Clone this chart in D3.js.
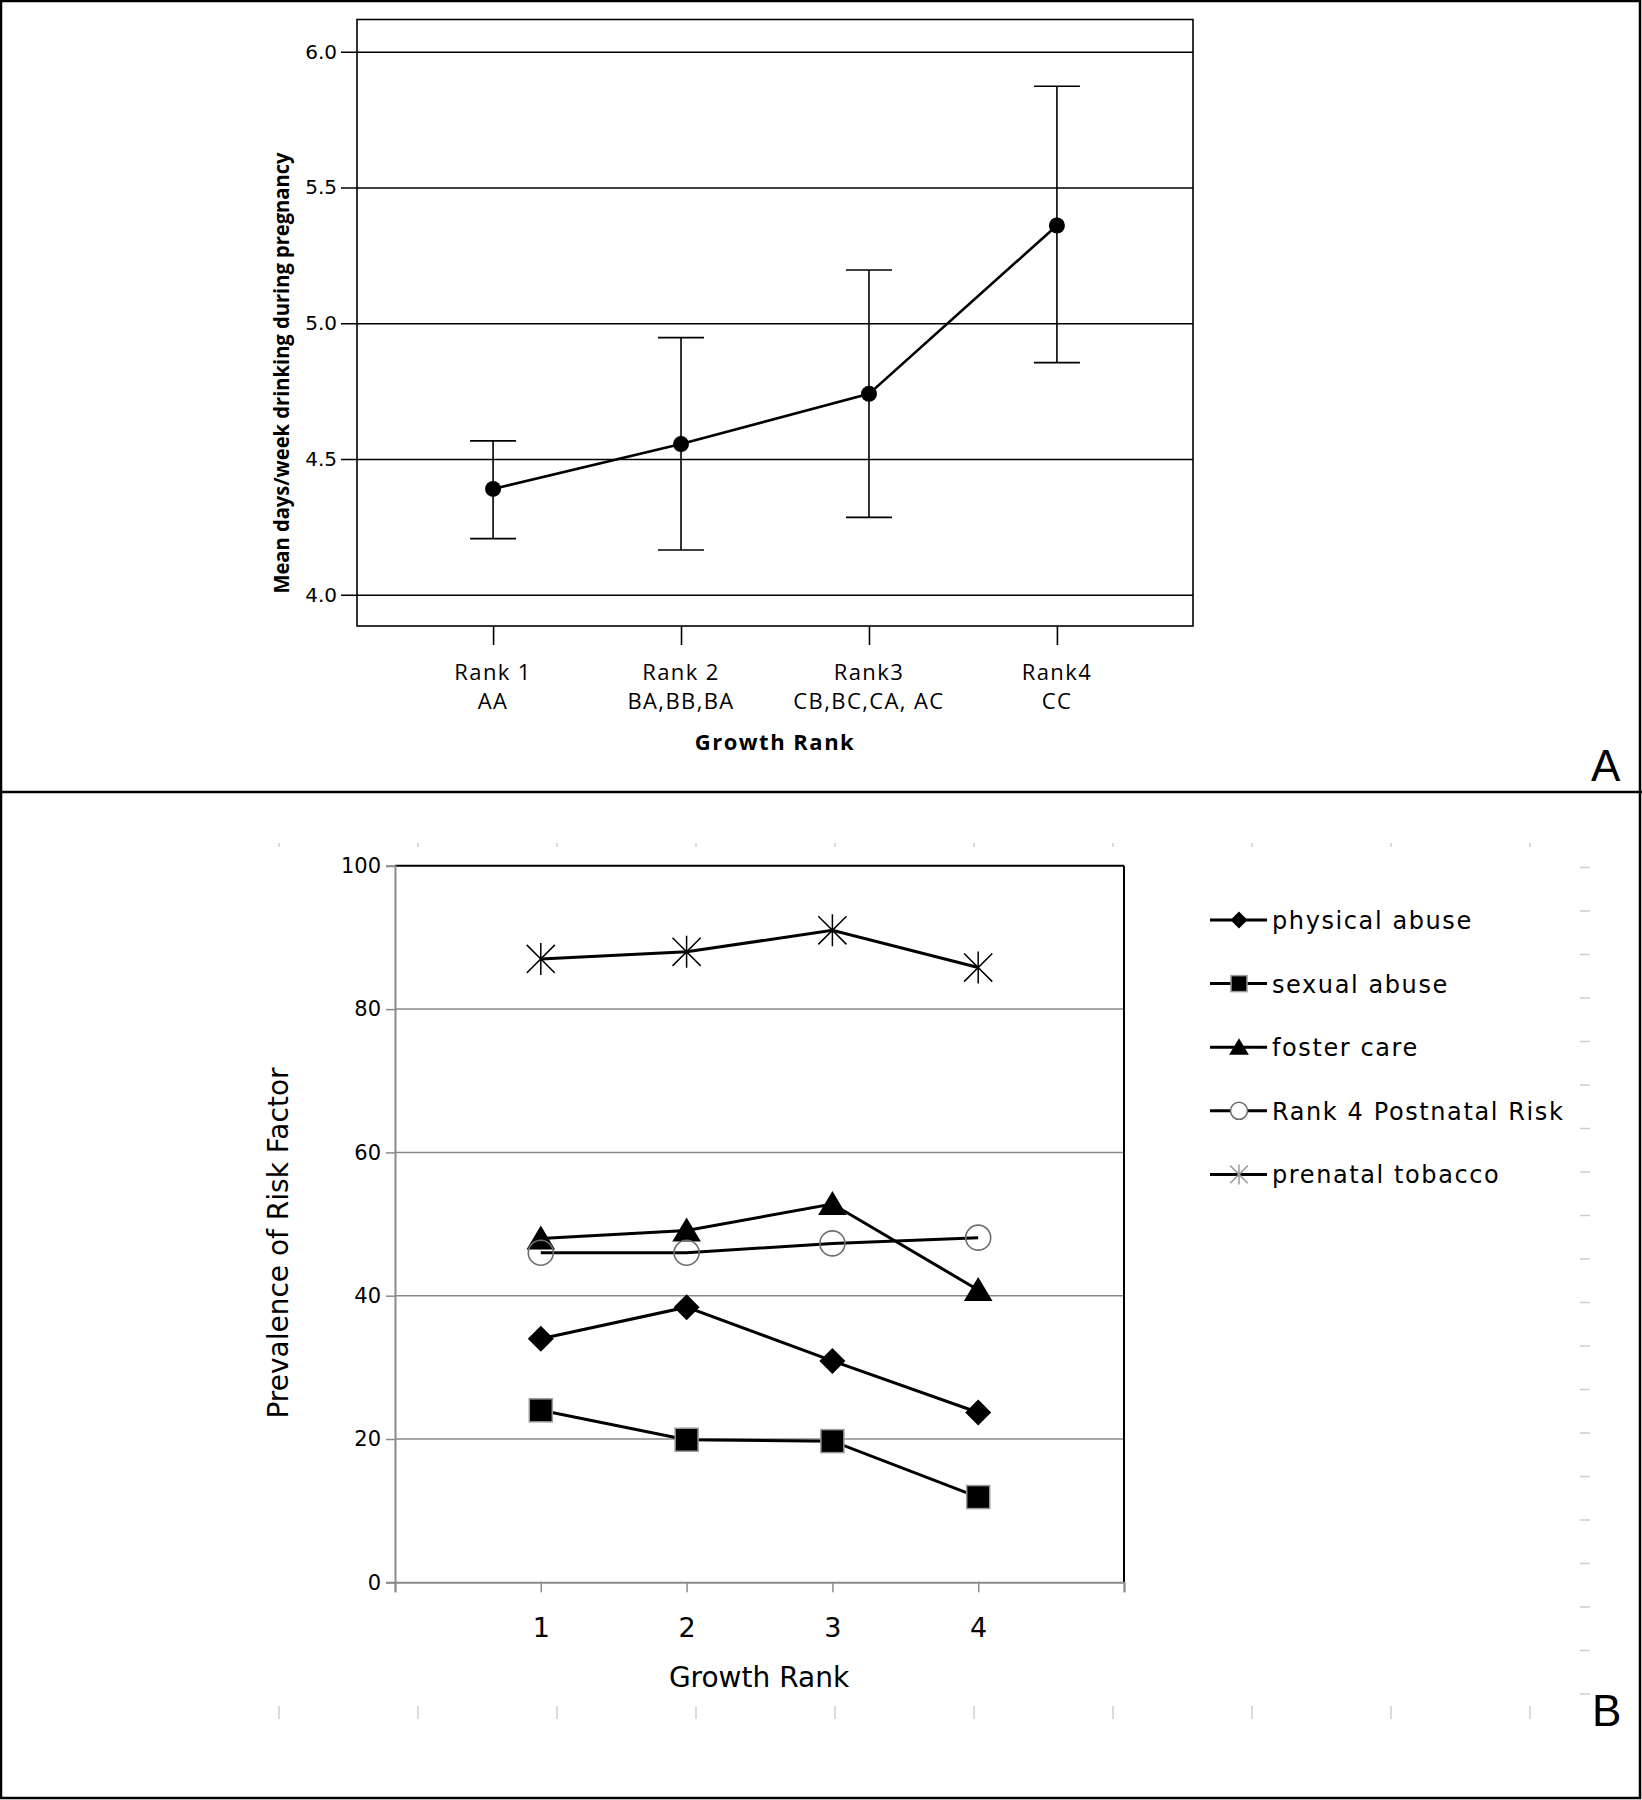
<!DOCTYPE html>
<html><head><meta charset="utf-8">
<script src="https://cdn.jsdelivr.net/npm/d3@7"></script>
<style>body{margin:0;background:#fff}</style>
</head><body>
<svg id="c" width="1642" height="1800"></svg>
<script>
// ---------- Panel A data ----------
const rankLabels = ["Rank 1", "Rank 2", "Rank3", "Rank4"];
const rankSubLabels = ["AA", "BA,BB,BA", "CB,BC,CA, AC", "CC"];
const meanDays = [4.39, 4.555, 4.74, 5.36];
const ciLow = [4.207, 4.165, 4.285, 4.855];
const ciHigh = [4.567, 4.947, 5.196, 5.873];
const yTicksA = [4.0, 4.5, 5.0, 5.5, 6.0];

// ---------- Panel B data ----------
const growthRanks = [1, 2, 3, 4];
const seriesNames = ["physical abuse", "sexual abuse", "foster care", "Rank 4 Postnatal Risk", "prenatal tobacco"];
const physicalAbuse = [34.0, 38.4, 30.9, 23.7];
const sexualAbuse = [24.0, 19.9, 19.7, 11.9];
const fosterCare = [48.0, 49.1, 52.8, 40.8];
const postnatalRisk = [46.0, 46.0, 47.3, 48.1];
const prenatalTobacco = [87.0, 88.0, 91.0, 85.8];
const yTicksB = [0, 20, 40, 60, 80, 100];
const xTicksB = [0, 1, 2, 3, 4, 5];

const svg = d3.select("#c");

// ---------- outer borders ----------
svg.append("rect").attr("x", 1).attr("y", 1).attr("width", 1639).attr("height", 1797)
  .attr("fill", "none").attr("stroke", "#000").attr("stroke-width", 2.5);
svg.append("line").attr("x1", 0).attr("x2", 1642).attr("y1", 792).attr("y2", 792)
  .attr("stroke", "#000").attr("stroke-width", 2.5);

// =================== PANEL A ===================
const A = svg.append("g");
const xA = d3.scalePoint().domain(rankLabels).range([357, 1193]).padding(0.724);
const yA = d3.scaleLinear().domain([4, 6]).range([594.8, 51.7]);
const frameA = {top: 19.5, bottom: 626, left: 357, right: 1193};

// gridlines with left ticks
A.append("g").attr("transform", `translate(${frameA.right},0)`)
  .call(d3.axisLeft(yA).tickValues(yTicksA).tickSize(frameA.right - 341).tickPadding(4).tickFormat(d3.format(".1f")))
  .call(g => g.select(".domain").remove())
  .call(g => g.selectAll("line").attr("stroke", "#000").attr("stroke-width", 1.6))
  .call(g => g.selectAll("text").attr("font-family", "DejaVu Sans").attr("font-size", 20).attr("fill", "#000"));

// frame
A.append("rect").attr("x", frameA.left).attr("y", frameA.top)
  .attr("width", frameA.right - frameA.left).attr("height", frameA.bottom - frameA.top)
  .attr("fill", "none").attr("stroke", "#000").attr("stroke-width", 1.6);

// x axis ticks and labels
A.append("g").attr("transform", `translate(0,${frameA.bottom})`)
  .call(d3.axisBottom(xA).tickSize(19).tickFormat(""))
  .call(g => g.select(".domain").remove())
  .call(g => g.selectAll("line").attr("stroke", "#000").attr("stroke-width", 1.6));
A.selectAll("text.rl").data(rankLabels).join("text").attr("class", "rl")
  .attr("x", d => xA(d)).attr("y", 680).attr("text-anchor", "middle")
  .attr("font-family", "Open Sans").attr("font-size", 22).attr("letter-spacing", 1.4).text(d => d);
A.selectAll("text.rs").data(rankSubLabels).join("text").attr("class", "rs")
  .attr("x", (d, i) => xA(rankLabels[i])).attr("y", 709).attr("text-anchor", "middle")
  .attr("font-family", "Open Sans").attr("font-size", 22).attr("letter-spacing", 1.4).text(d => d);
A.append("text").attr("x", 775).attr("y", 750).attr("text-anchor", "middle")
  .attr("font-family", "Open Sans").attr("font-weight", "bold").attr("font-size", 22)
  .attr("letter-spacing", 1.5).text("Growth Rank");
A.append("text").attr("transform", "translate(289,373) rotate(-90)").attr("text-anchor", "middle")
  .attr("font-family", "Open Sans").attr("font-weight", "bold").attr("font-size", 21)
  .attr("textLength", 441).attr("lengthAdjust", "spacingAndGlyphs")
  .text("Mean days/week drinking during pregnancy");

// error bars
const eb = A.append("g").attr("stroke", "#000").attr("stroke-width", 1.6);
rankLabels.forEach((r, i) => {
  const x = xA(r);
  eb.append("line").attr("x1", x).attr("x2", x).attr("y1", yA(ciLow[i])).attr("y2", yA(ciHigh[i]));
  eb.append("line").attr("x1", x - 23).attr("x2", x + 23).attr("y1", yA(ciLow[i])).attr("y2", yA(ciLow[i]));
  eb.append("line").attr("x1", x - 23).attr("x2", x + 23).attr("y1", yA(ciHigh[i])).attr("y2", yA(ciHigh[i]));
});
// mean line
A.append("path").datum(meanDays)
  .attr("d", d3.line().x((d, i) => xA(rankLabels[i])).y(d => yA(d)))
  .attr("fill", "none").attr("stroke", "#000").attr("stroke-width", 2.6);
A.selectAll("circle.m").data(meanDays).join("circle").attr("class", "m")
  .attr("cx", (d, i) => xA(rankLabels[i])).attr("cy", d => yA(d)).attr("r", 8).attr("fill", "#000");

A.append("text").attr("x", 1591).attr("y", 781).attr("font-family", "Liberation Sans")
  .attr("font-size", 44).text("A");

// =================== PANEL B ===================
const B = svg.append("g");
const xB = d3.scaleLinear().domain([0, 5]).range([395, 1124]);
const yB = d3.scaleLinear().domain([0, 100]).range([1582.3, 865.8]);

// faint background marks
const faint = B.append("g").attr("stroke", "#cfcfcf").attr("stroke-width", 1.5);
d3.range(10).forEach(k => {
  const x = 279 + 139 * k;
  faint.append("line").attr("x1", x).attr("x2", x).attr("y1", 843).attr("y2", 847);
  faint.append("line").attr("x1", x).attr("x2", x).attr("y1", 1706).attr("y2", 1719);
});
d3.range(20).forEach(k => {
  const y = 867.5 + 43.5 * k;
  faint.append("line").attr("x1", 1580).attr("x2", 1590).attr("y1", y).attr("y2", y);
});

// gridlines
B.append("g").selectAll("line").data(yTicksB.filter(v => v > 0 && v < 100)).join("line")
  .attr("x1", xB(0)).attr("x2", xB(5)).attr("y1", d => yB(d)).attr("y2", d => yB(d))
  .attr("stroke", "#8a8a8a").attr("stroke-width", 1.5);
// top and right frame
B.append("line").attr("x1", xB(0)).attr("x2", xB(5)).attr("y1", yB(100)).attr("y2", yB(100))
  .attr("stroke", "#000").attr("stroke-width", 2);
B.append("line").attr("x1", xB(5)).attr("x2", xB(5)).attr("y1", yB(100)).attr("y2", yB(0))
  .attr("stroke", "#000").attr("stroke-width", 2);

// left axis
B.append("g").attr("transform", `translate(${xB(0)},0)`)
  .call(d3.axisLeft(yB).tickValues(yTicksB).tickSize(9).tickPadding(5))
  .call(g => g.select(".domain").attr("stroke", "#8a8a8a").attr("stroke-width", 2))
  .call(g => g.selectAll("line").attr("stroke", "#8a8a8a").attr("stroke-width", 1.5))
  .call(g => g.selectAll("text").attr("font-family", "DejaVu Sans").attr("font-size", 21).attr("fill", "#000"));
// bottom axis
B.append("g").attr("transform", `translate(0,${yB(0)})`)
  .call(d3.axisBottom(xB).tickValues(xTicksB).tickSize(10).tickPadding(26)
    .tickFormat(d => growthRanks.includes(d) ? d : ""))
  .call(g => g.select(".domain").attr("stroke", "#8a8a8a").attr("stroke-width", 2))
  .call(g => g.selectAll("line").attr("stroke", "#8a8a8a").attr("stroke-width", 1.5))
  .call(g => g.selectAll("text").attr("font-family", "DejaVu Sans").attr("font-size", 27).attr("fill", "#000"));

B.append("text").attr("x", 759).attr("y", 1687).attr("text-anchor", "middle")
  .attr("font-family", "DejaVu Sans").attr("font-size", 28).text("Growth Rank");
B.append("text").attr("transform", "translate(288,1243) rotate(-90)").attr("text-anchor", "middle")
  .attr("font-family", "DejaVu Sans").attr("font-size", 28).text("Prevalence of Risk Factor");

// marker drawers
function marker(g, type, x, y, s, legend) {
  if (type === "diamond") {
    g.append("path").attr("d", `M${x},${y - s}L${x + s},${y}L${x},${y + s}L${x - s},${y}Z`).attr("fill", "#000");
  } else if (type === "square") {
    g.append("rect").attr("x", x - s).attr("y", y - s).attr("width", 2 * s).attr("height", 2 * s)
      .attr("fill", "#000").attr("stroke", "#9a9a9a").attr("stroke-width", 1.5);
  } else if (type === "triangle") {
    g.append("path").attr("d", `M${x},${y - s}L${x + s * 1.1},${y + s * 0.85}L${x - s * 1.1},${y + s * 0.85}Z`).attr("fill", "#000");
  } else if (type === "circle") {
    g.append("circle").attr("cx", x).attr("cy", y).attr("r", s).attr("fill", legend ? "#fff" : "none")
      .attr("stroke", "#6e6e6e").attr("stroke-width", 1.6);
  } else if (type === "asterisk") {
    const c = legend ? "#9a9a9a" : "#000";
    const a = s * 0.88;
    g.append("path").attr("d", `M${x - a},${y - a}L${x + a},${y + a}M${x - a},${y + a}L${x + a},${y - a}M${x},${y - s}L${x},${y + s}`)
      .attr("stroke", c).attr("stroke-width", 1.5).attr("fill", "none");
  }
}

const series = [
  {name: seriesNames[0], values: physicalAbuse, type: "diamond", size: 13},
  {name: seriesNames[1], values: sexualAbuse, type: "square", size: 11.5},
  {name: seriesNames[2], values: fosterCare, type: "triangle", size: 13},
  {name: seriesNames[3], values: postnatalRisk, type: "circle", size: 12.5},
  {name: seriesNames[4], values: prenatalTobacco, type: "asterisk", size: 16}
];
const lineB = d3.line().x((d, i) => xB(growthRanks[i])).y(d => yB(d));
series.forEach(s => {
  B.append("path").datum(s.values).attr("d", lineB).attr("fill", "none")
    .attr("stroke", "#000").attr("stroke-width", 3);
});
series.forEach(s => {
  const g = B.append("g");
  s.values.forEach((v, i) => marker(g, s.type, xB(growthRanks[i]), yB(v), s.size, false));
});

// legend
const leg = B.append("g");
series.forEach((s, k) => {
  const y = 920 + 63.6 * k;
  leg.append("line").attr("x1", 1210).attr("x2", 1267).attr("y1", y).attr("y2", y)
    .attr("stroke", "#000").attr("stroke-width", 3);
  const ls = {diamond: 8.5, square: 8, triangle: 9, circle: 8.5, asterisk: 10}[s.type];
  marker(leg, s.type, 1239, y, ls, true);
  leg.append("text").attr("x", 1272).attr("y", y + 9).attr("font-family", "DejaVu Sans")
    .attr("font-size", 24).attr("letter-spacing", 1.6).text(s.name);
});

B.append("text").attr("x", 1592).attr("y", 1726).attr("font-family", "Liberation Sans")
  .attr("font-size", 44).text("B");
</script>
</body></html>
